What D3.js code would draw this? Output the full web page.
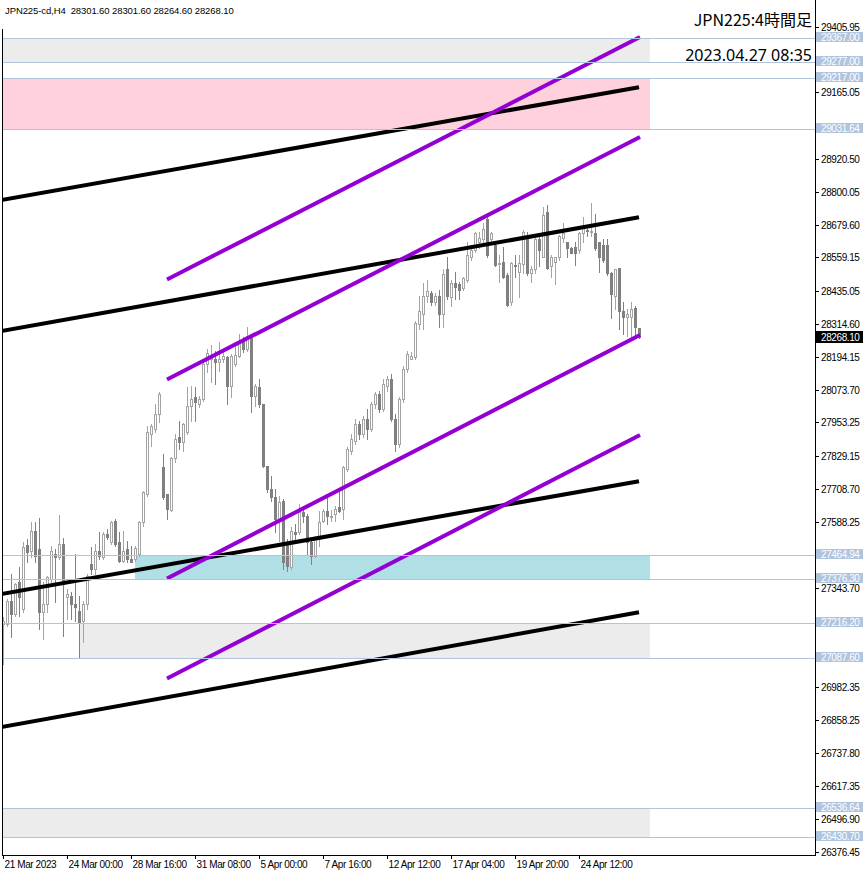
<!DOCTYPE html>
<html><head><meta charset="utf-8">
<script src="https://cdn.jsdelivr.net/npm/d3@7/dist/d3.min.js"></script>
<style>
body{margin:0;background:#fff}
svg{display:block}
text{font-family:"Liberation Sans",Arial,sans-serif}
</style>
</head><body>
<svg id="chart" width="866" height="876"></svg>
<script>
// ---------- DATA ----------
const symbolTitle = "JPN225-cd,H4  28301.60 28301.60 28264.60 28268.10";
const chartTitle = "JPN225:4時間足";
const chartTime = "2023.04.27 08:35";

// OHLC per H4 bar [open, high, low, close]
const candles = [
[27213,27238,27066,27224],[27213,27304,27205,27297],[27297,27396,27165,27249],[27249,27362,27242,27359],
[27366,27421,27242,27312],[27268,27513,27256,27495],[27502,27524,27440,27477],[27481,27587,27458,27554],
[27554,27587,27440,27462],[27488,27601,27194,27256],[27256,27366,27158,27286],[27286,27388,27256,27385],
[27378,27499,27366,27481],[27470,27488,27293,27458],[27458,27612,27450,27506],[27506,27528,27169,27359],
[27312,27341,27231,27322],[27315,27330,27231,27286],[27286,27470,27224,27275],[27260,27315,27087.6,27220],
[27224,27297,27147,27286],[27286,27396,27268,27388],[27432,27495,27396,27414],[27414,27506,27396,27481],
[27481,27550,27451,27462],[27458,27550,27451,27543],[27543,27561,27524,27532],[27513,27590,27506,27587],
[27590,27598,27499,27506],[27513,27550,27440,27444],[27444,27554,27440,27481],[27488,27517,27440,27451],
[27451,27499,27440,27440],[27451,27499,27444,27491],[27470,27590,27462,27587],[27587,27701,27572,27697],
[27690,27939,27682,27917],[27910,27946,27866,27939],[27928,28019,27917,27983],[27983,28063,27954,28056],
[27788,27836,27671,27679],[27690,27690,27598,27634],[27630,27825,27627,27822],[27822,27910,27807,27891],
[27899,27957,27855,27880],[27880,27950,27847,27946],[27917,28082,27910,28012],[28012,28086,27957,28038],
[28045,28082,27957,28027],[28019,28049,28008,28038],[28038,28174,28031,28166],[28166,28221,28137,28207],
[28185,28239,28100,28192],[28185,28214,28093,28174],[28174,28247,28141,28185],[28185,28214,28174,28196],
[28192,28196,28019,28086],[28086,28203,28045,28196],[28166,28232,28159,28199],[28196,28276,28192,28251],
[28258,28265,28210,28221],[28221,28302,28214,28269],[28269,28276,27990,28049],[28049,28093,28012,28086],
[28082,28111,28008,28019],[28019,28019,27788,27792],[27792,27792,27697,27708],[27708,27755,27664,27679],
[27679,27708,27550,27598],[27598,27682,27517,27660],[27664,27671,27414,27440],[27506,27524,27407,27425],
[27421,27568,27414,27554],[27550,27579,27513,27543],[27550,27653,27543,27623],[27623,27645,27587,27609],
[27609,27616,27470,27513],[27513,27517,27432,27462],[27462,27535,27458,27524],[27524,27627,27499,27587],
[27590,27634,27587,27627],[27627,27679,27579,27609],[27605,27630,27590,27609],[27616,27645,27590,27634],
[27642,27697,27623,27627],[27634,27792,27598,27788],[27781,27862,27774,27855],[27847,27910,27836,27891],
[27884,27965,27873,27946],[27946,27957,27891,27910],[27910,27975,27899,27965],[27965,28001,27891,27928],
[27928,28027,27920,28019],[28019,28063,28005,28056],[28056,28070,27990,28001],[28001,28111,27994,28093],
[28086,28122,28070,28111],[28111,28130,27957,27965],[27965,27983,27847,27873],[27873,28045,27862,28038],
[28038,28159,28027,28148],[28148,28214,28137,28203],[28185,28210,28185,28196],[28192,28324,28185,28320],
[28313,28416,28295,28361],[28350,28467,28295,28416],[28416,28478,28394,28434],[28430,28434,28386,28394],
[28394,28430,28386,28419],[28419,28441,28305,28353],[28353,28515,28305,28500],[28515,28562,28405,28416],
[28412,28478,28379,28467],[28467,28507,28405,28452],[28463,28470,28405,28441],[28445,28489,28441,28485],
[28478,28617,28470,28569],[28559,28606,28551,28588],[28588,28654,28580,28650],[28614,28654,28595,28632],
[28625,28687,28614,28665],[28702,28709,28562,28569],[28625,28654,28614,28650],[28606,28614,28526,28533],
[28536,28569,28470,28540],[28544,28599,28485,28489],[28496,28503,28379,28386],[28394,28544,28386,28540],
[28533,28569,28489,28529],[28507,28569,28412,28540],[28536,28661,28503,28654],[28625,28654,28496,28503],
[28503,28526,28470,28515],[28515,28632,28503,28625],[28625,28636,28526,28588],[28559,28746,28559,28716],
[28727,28753,28515,28522],[28526,28569,28489,28559],[28544,28562,28460,28559],[28559,28643,28551,28636],
[28632,28687,28617,28650],[28614,28617,28562,28595],[28595,28599,28577,28577],[28599,28614,28533,28577],
[28588,28654,28577,28650],[28650,28709,28614,28672],[28661,28680,28636,28657],[28654,28760,28636,28657],
[28650,28720,28588,28595],[28614,28617,28507,28559],[28606,28625,28544,28551],[28606,28625,28496,28503],
[28503,28507,28338,28423],[28416,28515,28368,28515],[28522,28522,28295,28361],[28361,28394,28276,28342],
[28342,28368,28269,28350],[28342,28394,28258,28368],[28375,28379,28265,28302],[28301.6,28301.6,28264.6,28268.1]
];

const timeLabelIndex = [0,16,32,48,64,80,96,112,128,144];
const timeLabels = ["21 Mar 2023","24 Mar 00:00","28 Mar 16:00","31 Mar 08:00","5 Apr 00:00","7 Apr 16:00","12 Apr 12:00","17 Apr 04:00","19 Apr 20:00","24 Apr 12:00"];

const priceTicks = [29405.95,29165.05,28920.50,28800.05,28679.60,28559.15,28435.05,28314.60,28194.15,28073.70,27953.25,27829.15,27708.70,27588.25,27343.70,26982.35,26858.25,26737.80,26617.35,26496.90,26376.45];
const priceMin = 26376.45, priceMax = 29405.95;

const levelPrices = [29367.00,29277.00,29217.00,29031.64,27464.94,27376.30,27216.20,27087.60,26536.64,26430.70];

// zones: top price, bottom price, start bar, end bar, kind
const zoneTop    = [29367.00, 29217.00, 27464.94, 27216.20, 26536.64];
const zoneBottom = [29277.00, 29031.64, 27376.30, 27087.60, 26430.70];
const zoneStart  = [-1, -1, 33, 19, -1];
const zoneEnd    = [161.75, 161.75, 161.75, 161.75, 161.75];
const zoneKind   = ["gray","pink","cyan","gray","gray"];

// trend lines [bar0, price0, bar1, price1]
const blackLines = [
  [0, 28770.8, 159, 29184.4],
  [0, 28289.6, 159, 28706.9],
  [0, 27323.5, 159, 27737.1],
  [0, 26834.9, 159, 27255.8]
];
const purpleLines = [
  [41, 28478.0, 159.25, 29368.8],
  [41, 28110.7, 159.25, 29001.5],
  [41, 27379.7, 159.25, 28274.2],
  [41, 27012.3, 159.25, 27906.8]
];
const lastPrice = 28268.10;

// ---------- DRAW ----------
const plotL = 2, plotR = 815, plotT = 0, plotB = 855;
const svg = d3.select("#chart");

const x = d3.scaleLinear().domain([0, 159]).range([3, 639]);
const y = d3.scaleLinear().domain([priceMin, priceMax]).range([851.6, 26.9]);
const zoneColor = {gray:"#ececec", pink:"#ffd1dc", cyan:"#b0e0e6"};

svg.append("defs").append("clipPath").attr("id","plotclip")
  .append("rect").attr("x",plotL+1).attr("y",plotT).attr("width",plotR-plotL-1).attr("height",plotB-plotT);

const plot = svg.append("g").attr("clip-path","url(#plotclip)");

// zones
plot.selectAll("rect.zone").data(zoneTop.map((t,i)=>i)).enter().append("rect")
  .attr("x", i => Math.max(plotL, Math.round(x(zoneStart[i]))))
  .attr("width", i => Math.round(x(zoneEnd[i])) - Math.max(plotL, Math.round(x(zoneStart[i]))))
  .attr("y", i => Math.round(y(zoneTop[i])))
  .attr("height", i => Math.round(y(zoneBottom[i])) - Math.round(y(zoneTop[i])))
  .attr("fill", i => zoneColor[zoneKind[i]]);

// horizontal levels
svg.selectAll("line.level").data(levelPrices).enter().append("line")
  .attr("x1", plotL).attr("x2", plotR)
  .attr("y1", d => Math.round(y(d))+0.5).attr("y2", d => Math.round(y(d))+0.5)
  .attr("stroke","#b0c4de").attr("stroke-width",1);

// candles
const cg = plot.append("g");
candles.forEach((c,i) => {
  const [o,h,l,cl] = c;
  const cx = Math.round(x(i));
  const bull = cl >= o;
  const col = bull ? "#a4a4a4" : "#808080";
  const yh = Math.round(y(h)), yl = Math.round(y(l));
  const yt = Math.round(y(Math.max(o,cl))), yb = Math.round(y(Math.min(o,cl)));
  cg.append("line").attr("x1",cx+0.5).attr("x2",cx+0.5).attr("y1",yh).attr("y2",yl+1)
    .attr("stroke",col).attr("stroke-width",1);
  if (bull) {
    cg.append("rect").attr("x",cx-0.5).attr("y",yt+0.5).attr("width",2).attr("height",Math.max(0,yb-yt))
      .attr("fill","#fff").attr("stroke",col).attr("stroke-width",1);
  } else {
    cg.append("rect").attr("x",cx-1).attr("y",yt).attr("width",3).attr("height",Math.max(1,yb-yt+1))
      .attr("fill",col);
  }
});

// trend lines
function drawLines(data, color, w, extL){
  plot.selectAll(null).data(data).enter().append("line")
    .attr("x1", d => x(d[0]) - extL)
    .attr("y1", d => y(d[1]) - extL * (y(d[3])-y(d[1]))/(x(d[2])-x(d[0])))
    .attr("x2", d => x(d[2])).attr("y2", d => y(d[3]))
    .attr("stroke", color).attr("stroke-width", w).attr("stroke-linecap","butt");
}
drawLines(blackLines, "#000", 4, 2);
drawLines(purpleLines, "#9400d3", 4, 0);

// frame
svg.append("line").attr("x1",plotL+0.5).attr("x2",plotL+0.5).attr("y1",29).attr("y2",plotB+0.5).attr("stroke","#000");
svg.append("line").attr("x1",plotR+0.5).attr("x2",plotR+0.5).attr("y1",0).attr("y2",plotB+0.5).attr("stroke","#000");
svg.append("line").attr("x1",plotL).attr("x2",plotR+1).attr("y1",plotB+0.5).attr("y2",plotB+0.5).attr("stroke","#000");

// price axis ticks and labels
const pa = svg.append("g");
priceTicks.forEach(p => {
  const yy = Math.round(y(p))+0.5;
  pa.append("line").attr("x1",plotR).attr("x2",plotR+4).attr("y1",yy).attr("y2",yy).attr("stroke","#000");
  pa.append("text").attr("x",plotR+6).attr("y",yy).attr("dy","0.36em")
    .attr("font-size",10).attr("letter-spacing","-0.4").attr("fill","#000").text(d3.format(".2f")(p));
});

// time axis
const ta = svg.append("g");
timeLabelIndex.forEach((bi,k) => {
  const xx = Math.round(x(bi))+0.5;
  ta.append("line").attr("x1",xx).attr("x2",xx).attr("y1",plotB).attr("y2",plotB+4).attr("stroke","#000");
  ta.append("text").attr("x",xx+1).attr("y",plotB+13).attr("font-size",10).attr("letter-spacing","-0.4")
    .attr("fill","#000").text(timeLabels[k]);
});

// level labels
levelPrices.forEach(p => {
  const yy = Math.round(y(p));
  svg.append("rect").attr("x",plotR+1).attr("y",yy-6).attr("width",47).attr("height",10).attr("fill","#b0c4de");
  svg.append("text").attr("x",plotR+6).attr("y",yy-1).attr("dy","0.36em").attr("font-size",10)
    .attr("letter-spacing","-0.4").attr("fill","#fff").text(d3.format(".2f")(p));
});
// last price label
{
  const yy = Math.round(y(lastPrice));
  svg.append("rect").attr("x",plotR+1).attr("y",yy-6).attr("width",47).attr("height",12).attr("fill","#000");
  svg.append("text").attr("x",plotR+6).attr("y",yy).attr("dy","0.36em").attr("font-size",10)
    .attr("letter-spacing","-0.4").attr("fill","#fff").text(d3.format(".2f")(lastPrice));
}

// titles
svg.append("text").attr("x",5).attr("y",14).attr("font-size",9.5).attr("letter-spacing","-0.1").attr("fill","#000")
  .style("white-space","pre").text(symbolTitle);
svg.append("text").attr("x",812).attr("y",26).attr("text-anchor","end").attr("font-size",16)
  .style("font-family","'Noto Sans CJK JP','Noto Sans',sans-serif").attr("fill","#000").text(chartTitle);
svg.append("text").attr("x",812).attr("y",61).attr("text-anchor","end").attr("font-size",16)
  .style("font-family","'Noto Sans','Liberation Sans',sans-serif").attr("fill","#000").text(chartTime);
</script>
</body></html>
